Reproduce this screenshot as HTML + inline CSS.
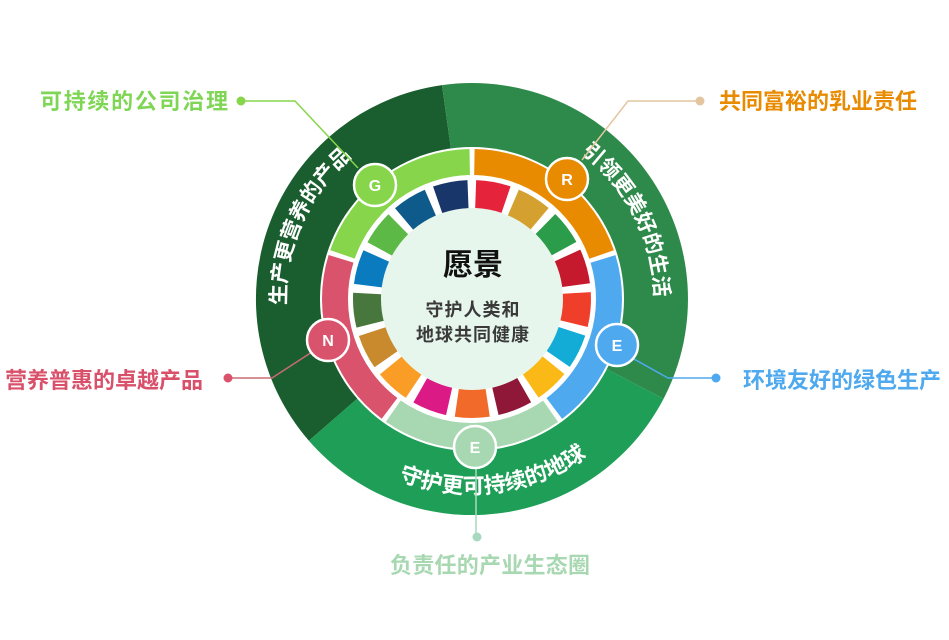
<!DOCTYPE html>
<html><head><meta charset="utf-8"><style>
html,body{margin:0;padding:0;background:#fff;}
svg{display:block;font-family:"Liberation Sans","Noto Sans CJK SC",sans-serif;}
</style></head><body>
<svg width="949" height="640" viewBox="0 0 949 640" xmlns="http://www.w3.org/2000/svg">
<defs>
<path id="pl" d="M 396.3,469 A 186 186 0 0 1 547.7,129"/>
<path id="pr" d="M 387.6,133.3 A 186 186 0 0 1 556.4,464.7"/>
<path id="pb" d="M 275.5,323.1 A 198 198 0 0 0 668.5,274.9"/>
</defs>
<path d="M472,299 L308.9,440.7 A216 216 0 0 1 442,85.1 Z" fill="#1a5e2f"/>
<path d="M472,299 L442,85.1 A216 216 0 0 1 663.6,398.7 Z" fill="#2e8a4a"/>
<path d="M472,299 L663.6,398.7 A216 216 0 0 1 308.9,440.7 Z" fill="#1e9e57"/>
<circle cx="472" cy="299" r="152" fill="#fff"/>
<g fill="none" stroke-width="26">
<circle cx="472" cy="299" r="137" stroke="#e98b00" stroke-dasharray="167.4 900" transform="rotate(-89 472 299)"/>
<circle cx="472" cy="299" r="137" stroke="#4fa9ef" stroke-dasharray="167.4 900" transform="rotate(-17 472 299)"/>
<circle cx="472" cy="299" r="137" stroke="#a8d8b1" stroke-dasharray="167.4 900" transform="rotate(55 472 299)"/>
<circle cx="472" cy="299" r="137" stroke="#d9536c" stroke-dasharray="167.4 900" transform="rotate(127 472 299)"/>
<circle cx="472" cy="299" r="137" stroke="#86d54b" stroke-dasharray="167.4 900" transform="rotate(199 472 299)"/>
</g>
<circle cx="472" cy="299" r="91" fill="#e6f6ec"/>
<g fill="none" stroke-width="28">
<circle cx="472" cy="299" r="105" stroke="#e5243b" stroke-dasharray="31 700" transform="rotate(-88 472 299)"/>
<circle cx="472" cy="299" r="105" stroke="#d4a030" stroke-dasharray="31 700" transform="rotate(-66.8 472 299)"/>
<circle cx="472" cy="299" r="105" stroke="#2a9c4a" stroke-dasharray="31 700" transform="rotate(-45.6 472 299)"/>
<circle cx="472" cy="299" r="105" stroke="#c5192d" stroke-dasharray="31 700" transform="rotate(-24.5 472 299)"/>
<circle cx="472" cy="299" r="105" stroke="#ef3f2a" stroke-dasharray="31 700" transform="rotate(-3.3 472 299)"/>
<circle cx="472" cy="299" r="105" stroke="#13acd6" stroke-dasharray="31 700" transform="rotate(17.9 472 299)"/>
<circle cx="472" cy="299" r="105" stroke="#fbb918" stroke-dasharray="31 700" transform="rotate(39.1 472 299)"/>
<circle cx="472" cy="299" r="105" stroke="#8f1838" stroke-dasharray="31 700" transform="rotate(60.2 472 299)"/>
<circle cx="472" cy="299" r="105" stroke="#f26a2a" stroke-dasharray="31 700" transform="rotate(81.4 472 299)"/>
<circle cx="472" cy="299" r="105" stroke="#dc1a85" stroke-dasharray="31 700" transform="rotate(102.6 472 299)"/>
<circle cx="472" cy="299" r="105" stroke="#f99d26" stroke-dasharray="31 700" transform="rotate(123.8 472 299)"/>
<circle cx="472" cy="299" r="105" stroke="#c98a2e" stroke-dasharray="31 700" transform="rotate(145 472 299)"/>
<circle cx="472" cy="299" r="105" stroke="#48773e" stroke-dasharray="31 700" transform="rotate(166.1 472 299)"/>
<circle cx="472" cy="299" r="105" stroke="#0a7bbf" stroke-dasharray="31 700" transform="rotate(187.3 472 299)"/>
<circle cx="472" cy="299" r="105" stroke="#5cb945" stroke-dasharray="31 700" transform="rotate(208.5 472 299)"/>
<circle cx="472" cy="299" r="105" stroke="#0e5a8a" stroke-dasharray="31 700" transform="rotate(229.7 472 299)"/>
<circle cx="472" cy="299" r="105" stroke="#19366a" stroke-dasharray="31 700" transform="rotate(250.9 472 299)"/>
</g>
<text x="473" y="275" text-anchor="middle" font-size="30" font-weight="bold" fill="#111">愿景</text>
<text x="473" y="316" text-anchor="middle" font-size="18" font-weight="bold" fill="#3a3a3a" letter-spacing="1">守护人类和</text>
<text x="473" y="341" text-anchor="middle" font-size="18" font-weight="bold" fill="#3a3a3a" letter-spacing="1">地球共同健康</text>
<g font-size="21" font-weight="bold" fill="#fff">
<text><textPath href="#pl" startOffset="50%" text-anchor="middle">生产更营养的产品</textPath></text>
<text><textPath href="#pr" startOffset="50%" text-anchor="middle">引领更美好的生活</textPath></text>
<text font-size="22"><textPath href="#pb" startOffset="50%" text-anchor="middle">守护更可持续的地球</textPath></text>
</g>
<g fill="none" stroke-width="1.5">
<polyline points="241,101 295,101 358,168" stroke="#86d54b"/>
<polyline points="700,101 628,101 582,160" stroke="#e3c6a0"/>
<polyline points="228,378 272,378 312,352" stroke="#c96b73"/>
<polyline points="716,378 668,378 632,358" stroke="#4fa9ef"/>
<polyline points="476,466 476,537" stroke="#a8d8c0"/>
</g>
<circle cx="241" cy="101" r="4.5" fill="#86d54b"/>
<circle cx="700" cy="101" r="4.5" fill="#e3c6a0"/>
<circle cx="228" cy="378" r="4.5" fill="#d9536c"/>
<circle cx="716" cy="378" r="4.5" fill="#4fa9ef"/>
<circle cx="477" cy="537" r="4.5" fill="#a8d8c0"/>
<g stroke="#fff" stroke-width="2.5">
<circle cx="375" cy="185" r="21" fill="#86d54b"/>
<circle cx="567" cy="179" r="21" fill="#e98b00"/>
<circle cx="617" cy="345" r="21" fill="#4fa9ef"/>
<circle cx="475" cy="447" r="21" fill="#a8d8b1"/>
<circle cx="328" cy="340" r="21" fill="#d9536c"/>
</g>
<g font-size="16" font-weight="bold" fill="#fff" text-anchor="middle">
<text x="375" y="191">G</text>
<text x="567" y="185">R</text>
<text x="617" y="351">E</text>
<text x="475" y="453">E</text>
<text x="328" y="346">N</text>
</g>
<g font-size="22" font-weight="bold">
<text x="40" y="109" fill="#7fd654" textLength="188">可持续的公司治理</text>
<text x="719" y="109" fill="#e98b00" textLength="198">共同富裕的乳业责任</text>
<text x="5" y="388" fill="#d9506a" textLength="198">营养普惠的卓越产品</text>
<text x="743" y="388" fill="#4fa9ef" textLength="198">环境友好的绿色生产</text>
<text x="390" y="573" fill="#a8d8b1" textLength="200">负责任的产业生态圈</text>
</g>
</svg>
</body></html>
